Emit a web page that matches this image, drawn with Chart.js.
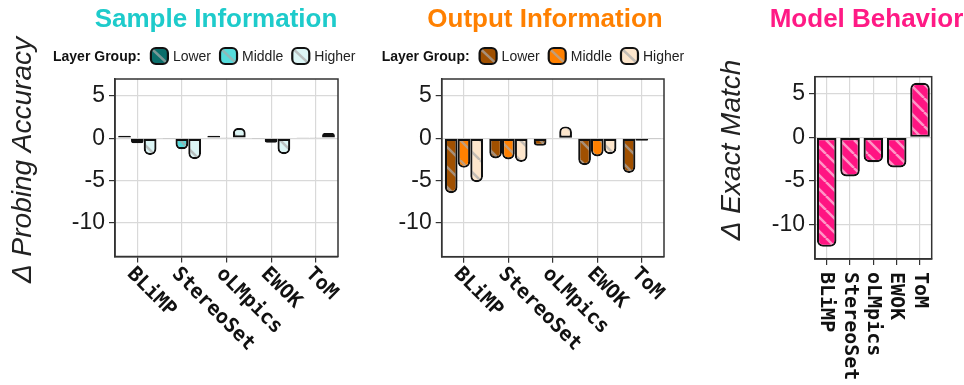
<!DOCTYPE html>
<html>
<head>
<meta charset="utf-8">
<script src="https://cdn.jsdelivr.net/npm/chart.js@4.4.0/dist/chart.umd.min.js"></script>
<style>
    body { margin: 0; background: #fff; }
    #wrap { position: relative; width: 964px; height: 385px; }
    .panel { position: absolute; top: 0; }
</style>
</head>
<body>
<div id="wrap">
    <div class="panel" style="left:0"><canvas id="sample" width="360" height="385"></canvas></div>
    <div class="panel" style="left:360px"><canvas id="output" width="340" height="385"></canvas></div>
    <div class="panel" style="left:700px"><canvas id="behavior" width="264" height="385"></canvas></div>
</div>
<script>
const benchmarks = ['BLiMP', 'StereoSet', 'oLMpics', 'EWOK', 'ToM'];
const layerGroups = ['Lower', 'Middle', 'Higher'];

const sampleLower = [0.3, -0.1, 0.3, -0.1, 0.05];
const sampleMiddle = [-0.6, -1.3, 0.1, -0.55, 0.05];
const sampleHigher = [-2.0, -2.5, 1.2, -1.9, 0.6];

const outputLower = [-6.5, -2.4, -0.9, -3.2, -4.1];
const outputMiddle = [-3.5, -2.5, 0.05, -2.15, -0.3];
const outputHigher = [-5.2, -2.8, 1.4, -1.9, -0.1];

const behaviorValues = [-12.6, -4.5, -2.85, -3.45, 6.3];

const yTicks = [-10, -5, 0, 5];

const sampleColors = ['#0a6e6b', '#56dcdc', '#dcf6f6'];
const outputColors = ['#a05000', '#ff8000', '#fde6cc'];
const behaviorColor = '#ff1482';

const FONT = 'Liberation Sans';
const MONO = 'DejaVu Sans Mono';

function makeHatch(canvasId, color, stripe, size) {
    const tile = document.createElement('canvas');
    tile.width = size;
    tile.height = size;
    const g = tile.getContext('2d');
    g.fillStyle = color;
    g.fillRect(0, 0, size, size);
    g.strokeStyle = stripe;
    g.lineWidth = 2.5;
    g.beginPath();
    for (let k = -1; k <= 1; k++) {
        g.moveTo(k * size, 0);
        g.lineTo(k * size + size, size);
    }
    g.stroke();
    return document.getElementById(canvasId).getContext('2d').createPattern(tile, 'repeat');
}

function endRadius(ctx) {
    const r = 6;
    if (ctx.raw < 0) {
        return {topLeft: 0, topRight: 0, bottomLeft: r, bottomRight: r};
    }
    return {topLeft: r, topRight: r, bottomLeft: 0, bottomRight: 0};
}

function barDataset(label, data, color, canvasId, stripe, size) {
    return {
        label: label,
        data: data,
        baseColor: color,
        backgroundColor: makeHatch(canvasId, color, stripe, size),
        borderColor: '#111',
        borderWidth: 2.2,
        borderSkipped: false,
        borderRadius: endRadius
    };
}

const decor = {
    id: 'decor',
    afterDraw(chart, args, opts) {
        const ctx = chart.ctx;
        const area = chart.chartArea;
        ctx.save();

        // frame round the plot
        ctx.strokeStyle = '#333';
        ctx.lineWidth = 1.5;
        ctx.strokeRect(area.left, area.top, area.right - area.left, area.bottom - area.top);

        // title
        ctx.fillStyle = opts.titleColor;
        ctx.font = 'bold 26px "' + FONT + '"';
        ctx.textAlign = 'center';
        ctx.textBaseline = 'alphabetic';
        ctx.fillText(opts.title, opts.titleX, 27);

        // y axis title
        ctx.save();
        ctx.translate(opts.yTitleX, opts.yTitleY);
        ctx.rotate(-Math.PI / 2);
        ctx.fillStyle = '#222';
        ctx.font = 'italic ' + opts.yTitleSize + 'px "' + FONT + '"';
        ctx.textBaseline = 'middle';
        ctx.fillText(opts.yTitle, 0, 0);
        ctx.restore();

        // legend
        if (opts.legendX !== undefined) {
            let x = opts.legendX;
            ctx.textAlign = 'left';
            ctx.fillStyle = '#111';
            ctx.font = 'bold 14px "' + FONT + '"';
            ctx.fillText('Layer Group:', x, 61);
            x += ctx.measureText('Layer Group:').width + 10;
            ctx.font = '14px "' + FONT + '"';
            chart.data.datasets.forEach(ds => {
                ctx.save();
                ctx.beginPath();
                ctx.roundRect(x, 48, 17, 16, 5);
                ctx.fillStyle = ds.baseColor;
                ctx.fill();
                ctx.clip();
                ctx.strokeStyle = opts.stripe;
                ctx.lineWidth = 2.5;
                ctx.beginPath();
                ctx.moveTo(x, 48);
                ctx.lineTo(x + 17, 64);
                ctx.stroke();
                ctx.restore();
                ctx.beginPath();
                ctx.roundRect(x, 48, 17, 16, 5);
                ctx.strokeStyle = '#111';
                ctx.lineWidth = 2.2;
                ctx.stroke();
                x += 17 + 5;
                ctx.fillStyle = '#222';
                ctx.fillText(ds.label, x, 61);
                x += ctx.measureText(ds.label).width + 9;
            });
        }

        // category labels
        const xs = chart.scales.x;
        ctx.fillStyle = '#111';
        ctx.font = 'bold 20px "' + MONO + '"';
        ctx.textAlign = 'left';
        chart.data.labels.forEach((lab, i) => {
            ctx.save();
            ctx.translate(xs.getPixelForTick(i), opts.labelY);
            ctx.rotate(opts.labelAngle * Math.PI / 180);
            ctx.textBaseline = opts.labelAngle === 90 ? 'middle' : 'top';
            ctx.fillText(lab, 0, 0);
            ctx.restore();
        });
        ctx.restore();
    }
};

function chartOptions(padding, barPct, decorOpts) {
    return {
        responsive: false,
        animation: false,
        layout: {padding: padding},
        datasets: {
            bar: {categoryPercentage: barPct, barPercentage: 1}
        },
        scales: {
            x: {
                type: 'category',
                offset: true,
                afterFit: s => { s.height = 0; },
                ticks: {display: false},
                grid: {offset: false, color: '#d9d9d9', lineWidth: 1.2, tickLength: 6, tickColor: '#333'},
                border: {color: '#333', width: 1.5}
            },
            y: {
                min: -14,
                max: 7,
                afterBuildTicks: s => { s.ticks = yTicks.map(v => ({value: v})); },
                afterFit: s => { s.width = 60; },
                ticks: {color: '#1a1a1a', padding: 4, font: {family: FONT, size: 23}},
                grid: {color: '#d9d9d9', lineWidth: 1.2, tickLength: 6, tickColor: '#333'},
                border: {color: '#333', width: 1.5}
            }
        },
        plugins: {
            legend: {display: false},
            title: {display: false},
            tooltip: {enabled: false},
            decor: decorOpts
        }
    };
}

const sampleStripe = 'rgba(170,170,170,0.7)';
new Chart(document.getElementById('sample'), {
    type: 'bar',
    data: {
        labels: benchmarks,
        datasets: [
            barDataset(layerGroups[0], sampleLower, sampleColors[0], 'sample', sampleStripe, 20),
            barDataset(layerGroups[1], sampleMiddle, sampleColors[1], 'sample', sampleStripe, 20),
            barDataset(layerGroups[2], sampleHigher, sampleColors[2], 'sample', sampleStripe, 20)
        ]
    },
    options: chartOptions({left: 55, right: 22, top: 79, bottom: 128.5}, 0.86, {
        title: 'Sample Information', titleColor: '#1ecbcb', titleX: 216,
        yTitle: '\u0394 Probing Accuracy', yTitleX: 23, yTitleY: 160, yTitleSize: 28,
        legendX: 53, stripe: sampleStripe, labelY: 264, labelAngle: 45
    }),
    plugins: [decor]
});

const outputStripe = 'rgba(170,170,170,0.7)';
new Chart(document.getElementById('output'), {
    type: 'bar',
    data: {
        labels: benchmarks,
        datasets: [
            barDataset(layerGroups[0], outputLower, outputColors[0], 'output', outputStripe, 20),
            barDataset(layerGroups[1], outputMiddle, outputColors[1], 'output', outputStripe, 20),
            barDataset(layerGroups[2], outputHigher, outputColors[2], 'output', outputStripe, 20)
        ]
    },
    options: chartOptions({left: 21.7, right: 36, top: 79, bottom: 128.3}, 0.86, {
        title: 'Output Information', titleColor: '#ff8000', titleX: 185,
        yTitle: '', yTitleX: 0, yTitleY: 0, yTitleSize: 24,
        legendX: 21.7, stripe: outputStripe, labelY: 264, labelAngle: 45
    }),
    plugins: [decor]
});

new Chart(document.getElementById('behavior'), {
    type: 'bar',
    data: {
        labels: benchmarks,
        datasets: [
            barDataset('Exact Match', behaviorValues, behaviorColor, 'behavior', 'rgba(255,255,255,0.55)', 14)
        ]
    },
    options: chartOptions({left: 55, right: 32.3, top: 76.7, bottom: 126}, 0.84, {
        title: 'Model Behavior', titleColor: '#ff1a85', titleX: 166.5,
        yTitle: '\u0394 Exact Match', yTitleX: 32, yTitleY: 150, yTitleSize: 28,
        labelY: 272, labelAngle: 90
    }),
    plugins: [decor]
});
</script>
</body>
</html>
